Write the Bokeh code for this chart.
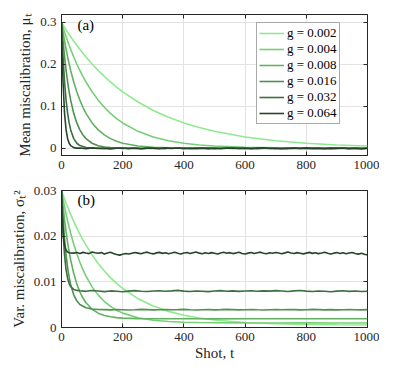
from bokeh.plotting import figure
from bokeh.models import Range1d, LinearAxis, FixedTicker, Label, Legend, LegendItem, NumeralTickFormatter
from bokeh.layouts import column
from bokeh.embed import file_html
from bokeh.resources import INLINE

FONT = "Liberation Serif, serif"

# ---------------- data ----------------
gains = ["0.002", "0.004", "0.008", "0.016", "0.032", "0.064"]
colors = ["#8fea8f", "#76cf76", "#62b262", "#4f924f", "#3c6f3f", "#26452a"]

x_ticks = [0, 200, 400, 600, 800, 1000]
a_ticks = [0, 0.1, 0.2, 0.3]
b_ticks = [0, 0.01, 0.02, 0.03]

t_smooth = [0, 2, 5, 10, 15, 20, 25, 30, 40, 50, 60, 70, 80, 100, 120, 140, 160, 180, 200,
            250, 300, 350, 400, 450, 500, 600, 700, 800, 900, 1000]

t_noisy = [0, 2, 5, 10, 15, 20, 25, 30, 40, 50,
           60, 80, 100, 120, 140, 160, 180, 200,
           220, 240, 260, 280, 300, 320, 340, 360, 380, 400,
           420, 440, 460, 480, 500, 520, 540, 560, 580, 600,
           620, 640, 660, 680, 700, 720, 740, 760, 780, 800,
           820, 840, 860, 880, 900, 920, 940, 960, 980, 1000]

t_dense = [0, 2, 4, 6, 8, 10, 15, 20, 25, 30,
           40, 50, 60, 70, 80, 90, 100, 110, 120, 130, 140, 150, 160, 170, 180, 190, 200,
           210, 220, 230, 240, 250, 260, 270, 280, 290, 300, 310, 320, 330, 340, 350,
           360, 370, 380, 390, 400, 410, 420, 430, 440, 450, 460, 470, 480, 490, 500,
           510, 520, 530, 540, 550, 560, 570, 580, 590, 600, 610, 620, 630, 640, 650,
           660, 670, 680, 690, 700, 710, 720, 730, 740, 750, 760, 770, 780, 790, 800,
           810, 820, 830, 840, 850, 860, 870, 880, 890, 900, 910, 920, 930, 940, 950,
           960, 970, 980, 990, 1000]

# (a) mean miscalibration
mu_002 = [0.3000, 0.2976, 0.2941, 0.2882, 0.2824, 0.2769, 0.2714, 0.2661, 0.2556, 0.2456,
          0.2360, 0.2267, 0.2178, 0.2011, 0.1856, 0.1714, 0.1582, 0.1461, 0.1348, 0.1104,
          0.0904, 0.0740, 0.0606, 0.0496, 0.0406, 0.0272, 0.0182, 0.0122, 0.0082, 0.0055]
mu_004 = [0.3000, 0.2952, 0.2883, 0.2769, 0.2661, 0.2556, 0.2456, 0.2360, 0.2178, 0.2011,
          0.1856, 0.1714, 0.1582, 0.1348, 0.1149, 0.0979, 0.0834, 0.0711, 0.0606, 0.0406,
          0.0272, 0.0182, 0.0122, 0.0082, 0.0055, 0.0025, 0.0011, 0.0005, 0.0002, 0.0001]
mu_008 = [0.3000, 0.2906, 0.2769, 0.2556, 0.2360, 0.2178, 0.2011, 0.1856, 0.1582, 0.1348,
          0.1149, 0.0979, 0.0834, 0.0606, 0.0440, 0.0320, 0.0232, 0.0169, 0.0122, 0.0055,
          0.0025, 0.0011, 0.0005, 0.0002, 0.0001, 0.0001, 0.0002, -0.0001, 0.0001, 0.0000]
mu_016 = [0.3000, 0.2814, 0.2556, 0.2178, 0.1856, 0.1582, 0.1348, 0.1149, 0.0834, 0.0606,
          0.0440, 0.0320, 0.0232, 0.0122, 0.0064, 0.0034, 0.0018, 0.0009, 0.0005, 0.0003,
          -0.0002, 0.0004, 0.0001, -0.0003, 0.0002, 0.0004, -0.0002, 0.0003, -0.0001, 0.0002]
mu_032 = [0.3000, 0.2639, 0.2178, 0.1582, 0.1149, 0.0834, 0.0606, 0.0440, 0.0232, 0.0122,
          0.0066, 0.0021, 0.0003, 0.0006, -0.0004, 0.0002, 0.0007, -0.0003,
          0.0001, 0.0005, -0.0006, 0.0002, 0.0008, -0.0002, -0.0005, 0.0004, 0.0001, 0.0006,
          -0.0004, 0.0003, -0.0001, 0.0005, -0.0007, 0.0002, 0.0004, -0.0003, 0.0006, -0.0001,
          0.0003, -0.0006, 0.0002, 0.0007, -0.0002, 0.0001, -0.0005, 0.0004, 0.0002, -0.0004,
          0.0006, -0.0001, 0.0003, -0.0006, 0.0005, 0.0001, -0.0003, 0.0004, -0.0002, 0.0003]
mu_064 = [0.3000, 0.2322, 0.1582, 0.0834, 0.0440, 0.0232, 0.0122, 0.0064, 0.0018, 0.0005,
          0.0008, -0.0006, 0.0011, -0.0003, 0.0004, -0.0012, 0.0002, 0.0009,
          -0.0007, 0.0003, -0.0010, 0.0006, 0.0001, -0.0005, 0.0012, -0.0002, 0.0007, -0.0009,
          0.0004, -0.0001, 0.0010, -0.0006, 0.0002, -0.0011, 0.0005, 0.0008, -0.0004, 0.0001,
          -0.0008, 0.0006, 0.0013, -0.0003, 0.0004, -0.0010, 0.0002, 0.0007, -0.0005, 0.0011,
          -0.0002, 0.0003, -0.0009, 0.0006, -0.0001, 0.0008, -0.0007, 0.0004, -0.0012, 0.0003]

# (b) variance of miscalibration
var_002 = [0.03000, 0.02962, 0.02906, 0.02814, 0.02726, 0.02640, 0.02558, 0.02477, 0.02325, 0.02181,
           0.02047, 0.01921, 0.01804, 0.01590, 0.01402, 0.01237, 0.01093, 0.00966, 0.00854, 0.00631,
           0.00470, 0.00353, 0.00269, 0.00208, 0.00164, 0.00110, 0.00081, 0.00066, 0.00059, 0.00054]
var_004 = [0.03000, 0.02925, 0.02818, 0.02646, 0.02486, 0.02336, 0.02195, 0.02064, 0.01824, 0.01614,
           0.01429, 0.01267, 0.01125, 0.00890, 0.00709, 0.00570, 0.00462, 0.00379, 0.00315, 0.00213,
           0.00159, 0.00131, 0.00116, 0.00108, 0.00104, 0.00101, 0.00100, 0.00101, 0.00099, 0.00100]
var_008 = [0.03000, 0.02858, 0.02657, 0.02357, 0.02093, 0.01861, 0.01657, 0.01478, 0.01183, 0.00956,
           0.00780, 0.00645, 0.00541, 0.00399, 0.00314, 0.00264, 0.00234, 0.00216, 0.00205, 0.00194,
           0.00191, 0.00193, 0.00190, 0.00192, 0.00189, 0.00191, 0.00193, 0.00190, 0.00192, 0.00190]
var_016 = [0.03000, 0.02742, 0.02403, 0.01942, 0.01586, 0.01313, 0.01101, 0.00938, 0.00716, 0.00584,
           0.00505, 0.00431, 0.00404, 0.00395, 0.00392, 0.00386, 0.00395, 0.00390,
           0.00383, 0.00389, 0.00396, 0.00391, 0.00385, 0.00390, 0.00394, 0.00388, 0.00392, 0.00397,
           0.00390, 0.00384, 0.00389, 0.00393, 0.00387, 0.00391, 0.00396, 0.00392, 0.00386, 0.00390,
           0.00394, 0.00388, 0.00383, 0.00389, 0.00393, 0.00390, 0.00395, 0.00391, 0.00386, 0.00390,
           0.00397, 0.00392, 0.00387, 0.00391, 0.00385, 0.00389, 0.00394, 0.00390, 0.00386, 0.00391]
var_032 = [0.03000, 0.02587, 0.02108, 0.01578, 0.01262, 0.01075, 0.00963, 0.00897, 0.00834, 0.00812,
           0.00805, 0.00792, 0.00810, 0.00798, 0.00786, 0.00801, 0.00794, 0.00782,
           0.00797, 0.00808, 0.00795, 0.00787, 0.00799, 0.00806, 0.00793, 0.00801, 0.00812, 0.00796,
           0.00788, 0.00800, 0.00794, 0.00785, 0.00798, 0.00807, 0.00795, 0.00802, 0.00791, 0.00799,
           0.00804, 0.00793, 0.00801, 0.00796, 0.00808, 0.00799, 0.00790, 0.00803, 0.00811, 0.00797,
           0.00789, 0.00800, 0.00794, 0.00783, 0.00797, 0.00805, 0.00792, 0.00800, 0.00788, 0.00795]
var_064 = [0.03000, 0.02534, 0.02226, 0.02023, 0.01889, 0.01801, 0.01691, 0.01651, 0.01638, 0.01633,
           0.01628, 0.01641, 0.01622, 0.01645, 0.01631, 0.01618, 0.01652, 0.01637, 0.01624, 0.01640,
           0.01611, 0.01633, 0.01648, 0.01620, 0.01598, 0.01585, 0.01602,
           0.01619, 0.01608, 0.01626, 0.01641, 0.01629, 0.01614, 0.01637, 0.01650, 0.01627, 0.01612,
           0.01634, 0.01645, 0.01623, 0.01638, 0.01616, 0.01630, 0.01647, 0.01625, 0.01609, 0.01631,
           0.01644, 0.01620, 0.01636, 0.01652, 0.01628, 0.01613, 0.01635, 0.01621, 0.01640, 0.01626,
           0.01610, 0.01632, 0.01648, 0.01624, 0.01639, 0.01618, 0.01633, 0.01646, 0.01622, 0.01611,
           0.01629, 0.01642, 0.01619, 0.01635, 0.01650, 0.01627, 0.01614, 0.01638, 0.01625, 0.01643,
           0.01630, 0.01616, 0.01634, 0.01655, 0.01631, 0.01621, 0.01640, 0.01626, 0.01612, 0.01629,
           0.01645, 0.01623, 0.01637, 0.01618, 0.01633, 0.01649, 0.01626, 0.01610, 0.01628, 0.01641,
           0.01622, 0.01636, 0.01615, 0.01630, 0.01644, 0.01620, 0.01607, 0.01625, 0.01603, 0.01588]

a_series = [(t_smooth, mu_002), (t_smooth, mu_004), (t_smooth, mu_008),
            (t_smooth, mu_016), (t_noisy, mu_032), (t_noisy, mu_064)]
b_series = [(t_smooth, var_002), (t_smooth, var_004), (t_smooth, var_008),
            (t_noisy, var_016), (t_noisy, var_032), (t_dense, var_064)]

AX = "#262626"
GRID = "#e3e3e3"


def make_fig(height, top, bottom, y_range, yticks, ylabel, xlabel=None):
    p = figure(width=379, height=height, output_backend="svg", toolbar_location=None,
               x_range=Range1d(0, 1000), y_range=Range1d(*y_range),
               min_border_left=61, min_border_right=12, min_border_top=top,
               min_border_bottom=bottom, background_fill_color="white",
               border_fill_color="white")
    p.outline_line_color = AX
    p.outline_line_width = 1
    p.xaxis.ticker = FixedTicker(ticks=x_ticks)
    p.yaxis.ticker = FixedTicker(ticks=yticks)
    p.yaxis.formatter = NumeralTickFormatter(format="0.[00]")
    for ax in (p.xaxis[0], p.yaxis[0]):
        ax.major_tick_in = 4
        ax.major_tick_out = 0
        ax.minor_tick_line_color = None
        ax.axis_line_color = AX
        ax.major_tick_line_color = AX
        ax.major_label_text_font = FONT
        ax.major_label_text_font_size = "13px"
        ax.major_label_text_color = AX
        ax.axis_label_text_font = FONT
        ax.axis_label_text_font_size = "15px"
        ax.axis_label_text_font_style = "normal"
        ax.axis_label_text_color = AX
    p.xaxis.major_label_standoff = 5
    p.yaxis.major_label_standoff = 5
    p.yaxis.axis_label = ylabel
    p.yaxis.axis_label_standoff = 4
    if xlabel:
        p.xaxis.axis_label = xlabel
        p.xaxis.axis_label_standoff = 1
    # mirrored axes (ticks only, no labels) on top and right
    top_ax = LinearAxis(ticker=FixedTicker(ticks=x_ticks), major_tick_in=4, major_tick_out=0,
                        minor_tick_line_color=None, major_label_text_color=None,
                        major_label_text_font_size="1px",
                        major_label_standoff=0, axis_line_color=None, major_tick_line_color=AX)
    right_ax = LinearAxis(ticker=FixedTicker(ticks=yticks), major_tick_in=4, major_tick_out=0,
                          minor_tick_line_color=None, major_label_text_color=None,
                          major_label_text_font_size="1px",
                          major_label_standoff=0, axis_line_color=None, major_tick_line_color=AX)
    p.add_layout(top_ax, "above")
    p.add_layout(right_ax, "right")
    p.xgrid.ticker = FixedTicker(ticks=x_ticks)
    p.ygrid.ticker = FixedTicker(ticks=yticks)
    p.xgrid.grid_line_color = GRID
    p.ygrid.grid_line_color = GRID
    return p


pa = make_fig(177, 14, 22, (-0.017, 0.319), a_ticks, "Mean miscalibration, μₜ")
pb = make_fig(189, 13, 39, (0, 0.03), b_ticks, "Var. miscalibration, σₜ²", "Shot, t")

items = []
for (t, v), c, g in zip(a_series, colors, gains):
    r = pa.line(t, v, line_color=c, line_width=1.6)
    items.append(LegendItem(label="g = " + g, renderers=[r]))
for (t, v), c in zip(b_series, colors):
    pb.line(t, v, line_color=c, line_width=1.6)

legend = Legend(items=items, location=(195, 31), margin=0, padding=2, spacing=0,
                glyph_width=25, glyph_height=14, label_height=14, label_standoff=3,
                label_text_font=FONT, label_text_font_size="13px", label_text_color="black",
                border_line_color="#555555", border_line_width=1, background_fill_alpha=1)
pa.add_layout(legend)

pa.add_layout(Label(x=52, y=0.295, text="(a)", text_baseline="middle", text_font=FONT,
                    text_font_size="15px", text_color="black"))
pb.add_layout(Label(x=52, y=0.028, text="(b)", text_baseline="middle", text_font=FONT,
                    text_font_size="15px", text_color="black"))

layout = column(pa, pb)
open("out.html", "w").write(file_html(layout, INLINE))
